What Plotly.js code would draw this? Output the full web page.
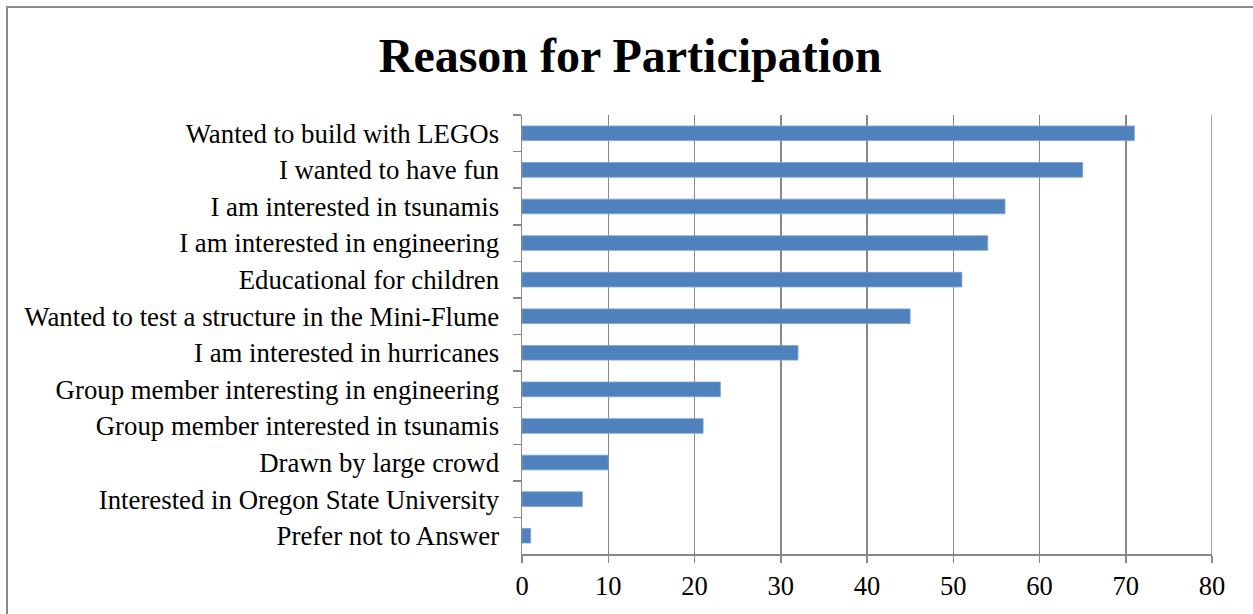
<!DOCTYPE html>
<html>
<head>
<meta charset="utf-8">
<script src="https://cdn.plot.ly/plotly-3.0.1.min.js"></script>
<style>
html,body{margin:0;padding:0;overflow:hidden;background:#fff;}
#chart{position:absolute;left:0;top:0;width:1253px;height:614px;}
#frame{position:absolute;left:6px;top:6px;width:1300px;height:700px;border:2px solid #898989;pointer-events:none;}
</style>
</head>
<body>
<div id="chart"></div>
<div id="frame"></div>
<script>
const categories = [
  "Wanted to build with LEGOs",
  "I wanted to have fun",
  "I am interested in tsunamis",
  "I am interested in engineering",
  "Educational for children",
  "Wanted to test a structure in the Mini-Flume",
  "I am interested in hurricanes",
  "Group member interesting in engineering",
  "Group member interested in tsunamis",
  "Drawn by large crowd",
  "Interested in Oregon State University",
  "Prefer not to Answer"
];
const counts = [71, 65, 56, 54, 51, 45, 32, 23, 21, 10, 7, 1];
const xTicks = [0, 10, 20, 30, 40, 50, 60, 70, 80];
const xMax = 80;

const serif = '"Liberation Serif", "Times New Roman", Times, serif';

const trace = {
  type: 'bar',
  orientation: 'h',
  y: categories,
  x: counts,
  marker: {color: '#4F81BD', line: {color: '#7EA1CF', width: 0.8}},
  hoverinfo: 'x+y'
};

const layout = {
  width: 1253,
  height: 614,
  margin: {l: 522, r: 41, t: 115, b: 60},
  paper_bgcolor: '#fff',
  plot_bgcolor: '#fff',
  font: {family: serif, size: 26, color: '#000'},
  title: {
    text: '<b>Reason for Participation</b>',
    font: {family: serif, size: 48, color: '#000'},
    x: 0.503, xref: 'container', xanchor: 'center',
    y: 0.91, yref: 'container', yanchor: 'middle'
  },
  bargap: 0.6,
  showlegend: false,
  xaxis: {
    range: [0, xMax],
    tickvals: xTicks,
    ticktext: xTicks.map(String),
    showgrid: true,
    gridcolor: '#888888',
    gridwidth: 1.5,
    zeroline: false,
    showline: true,
    linecolor: '#888888',
    linewidth: 1.5,
    ticks: 'outside',
    ticklen: 7,
    tickcolor: '#888888',
    tickwidth: 1.5,
    ticklabelstandoff: 1,
    tickfont: {family: serif, size: 26.5, color: '#000'}
  },
  yaxis: {
    type: 'category',
    autorange: 'reversed',
    showgrid: false,
    zeroline: false,
    showline: true,
    linecolor: '#888888',
    linewidth: 1.5,
    ticks: 'outside',
    tickson: 'boundaries',
    ticklen: 8,
    tickcolor: '#888888',
    tickwidth: 1.5,
    ticklabelstandoff: 16,
    tickfont: {family: serif, size: 26.8, color: '#000'}
  },
  shapes: [{
    type: 'line', xref: 'x', yref: 'paper',
    x0: xMax, x1: xMax, y0: 0, y1: 1,
    line: {color: '#888888', width: 1.5},
    layer: 'below'
  }]
};

Plotly.newPlot('chart', [trace], layout, {displayModeBar: false, staticPlot: true});
</script>
</body>
</html>
